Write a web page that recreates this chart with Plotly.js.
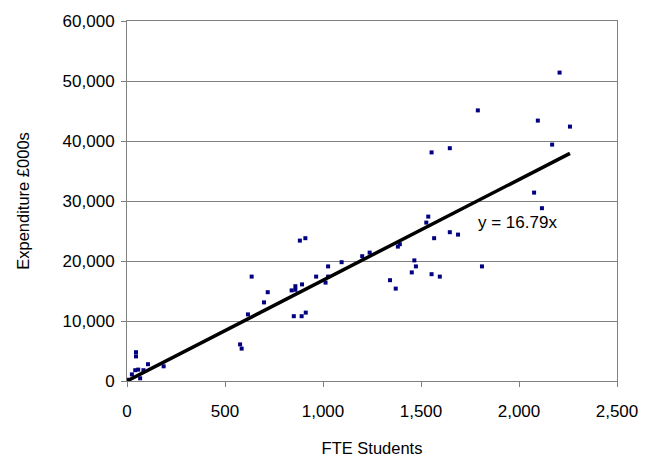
<!DOCTYPE html>
<html>
<head>
<meta charset="utf-8">
<script src="https://cdn.plot.ly/plotly-3.0.1.min.js"></script>
<style>html,body{margin:0;padding:0;background:#fff;}#chart{width:647px;height:461px;}</style>
</head>
<body>
<div id="chart"></div>
<script>
const fteStudents = [0, 25, 46, 46, 42, 57, 67, 84, 107, 187, 577, 585, 617, 636, 699, 718, 840, 859, 859, 851, 882, 910, 891, 912, 893, 965, 1013, 1026, 1026, 1095, 1200, 1238, 1342, 1371, 1382, 1392, 1453, 1466, 1474, 1527, 1537, 1554, 1554, 1567, 1596, 1647, 1647, 1689, 1790, 1811, 2077, 2096, 2117, 2169, 2207, 2260];
const expenditure = [200, 1100, 4800, 4100, 1800, 1900, 450, 1800, 2800, 2450, 6100, 5400, 11100, 17400, 13100, 14800, 15100, 15800, 15200, 10800, 23400, 23800, 10800, 11400, 16100, 17400, 16400, 17400, 19100, 19800, 20800, 21400, 16800, 15400, 22400, 22800, 18100, 20100, 19100, 26400, 27400, 38100, 17800, 23800, 17400, 38800, 24800, 24400, 45100, 19100, 31400, 43400, 28800, 39400, 51400, 42400];
const slope = 16.79;
const trendX = [0, Math.max(...fteStudents)];
const trendY = trendX.map(v => v * slope);
const trendLabel = "y = 16.79x";
const xTicks = [0, 500, 1000, 1500, 2000, 2500];
const yTicks = [0, 10000, 20000, 30000, 40000, 50000, 60000];

const font = {family: "Liberation Sans, Arial, sans-serif", size: 17, color: "#000"};
const titleFont = {family: "Liberation Sans, Arial, sans-serif", size: 16.5, color: "#000"};
const data = [
  {x: fteStudents, y: expenditure, type: "scatter", mode: "markers",
   marker: {symbol: "square", size: 4, color: "#000080"}, hoverinfo: "x+y"},
  {x: trendX, y: trendY, type: "scatter", mode: "lines",
   line: {color: "#000", width: 3.5}, hoverinfo: "skip"}
];
const layout = {
  width: 647, height: 461,
  margin: {l: 127, r: 30, t: 21, b: 80},
  showlegend: false,
  paper_bgcolor: "#fff", plot_bgcolor: "#fff",
  font: font,
  xaxis: {range: [0, 2500], tickvals: xTicks, tickformat: ",", showgrid: false, zeroline: false,
          showline: true, linecolor: "#808080", linewidth: 1, mirror: true,
          ticks: "outside", ticklen: 5, tickcolor: "#808080", ticklabelstandoff: 10,
          title: {text: "FTE Students", font: titleFont, standoff: 22}},
  yaxis: {range: [0, 60000], tickvals: yTicks, tickformat: ",", showgrid: true, gridcolor: "#808080", gridwidth: 1,
          zeroline: false, showline: true, linecolor: "#808080", linewidth: 1, mirror: true,
          ticks: "outside", ticklen: 5, tickcolor: "#808080", ticklabelstandoff: 3,
          title: {text: "Expenditure £000s", font: titleFont, standoff: 28}},
  annotations: [{x: 1780, y: 26400, xanchor: "left", yanchor: "middle", text: trendLabel,
                 showarrow: false, font: font}]
};
Plotly.newPlot("chart", data, layout, {displayModeBar: false, staticPlot: true});
</script>
</body>
</html>
